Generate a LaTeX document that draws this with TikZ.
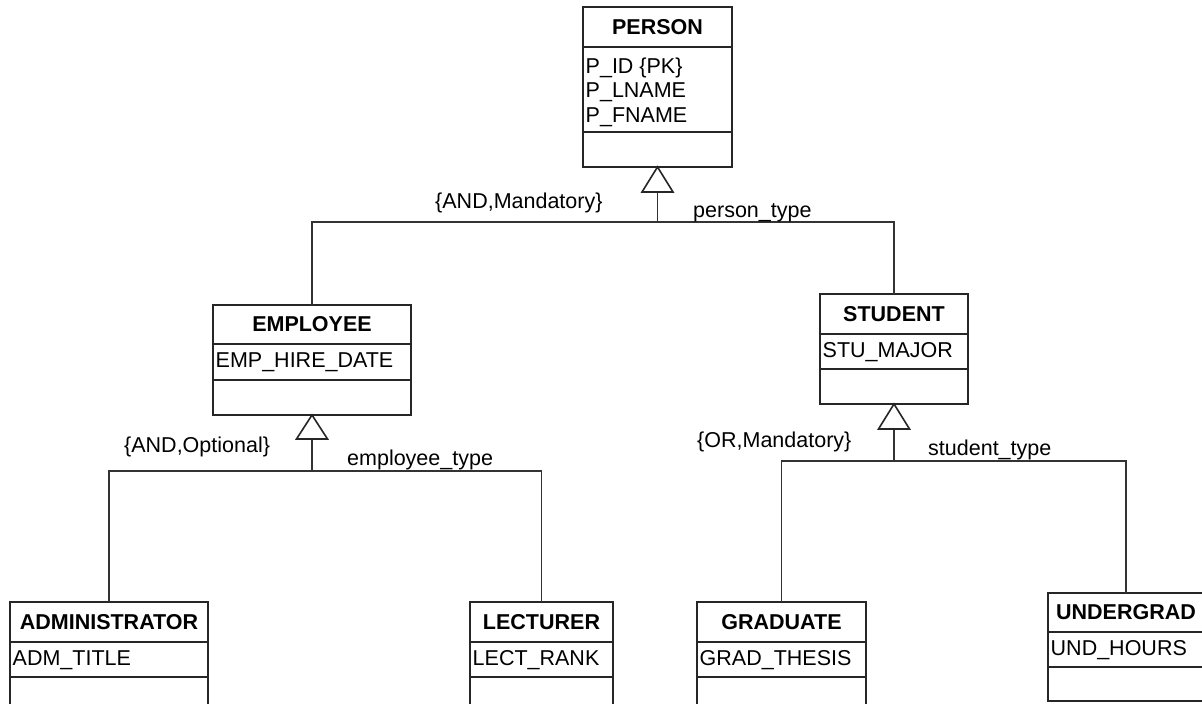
\documentclass[tikz,border=0pt]{standalone}
\usepackage{fontspec}
\setmainfont{Liberation Sans}
\usetikzlibrary{calc}
\newcommand\dfont{\fontsize{21.5}{24}\selectfont}
\newcommand\attrfirst{23}
% UML class box: name, north-west corner, width, heights of the three compartments, title, attributes
\newcommand\umlbox[8]{%
  \node[part, minimum width=#3, minimum height=#4] (#1H) at #2 {};
  \node[part, minimum width=#3, minimum height=#5] (#1A) at (#1H.south west) {};
  \node[part, minimum width=#3, minimum height=#6] (#1O) at (#1A.south west) {};
  \node[ctitle] (#1T) at (#1H.center) {#7};
  \foreach \t [count=\i] in {#8}
    \node[attr] at ($(#1A.north west)+(2.5,{\attrfirst+24.5*(\i-1)})$) {\t};
}
\begin{document}
\begin{tikzpicture}[x=1pt,y=-1pt,
  part/.style={draw=black!85, line width=1.8pt, anchor=north west, inner sep=0pt, outer sep=0pt},
  ctitle/.style={font=\dfont\bfseries, inner sep=0pt, anchor=center},
  attr/.style={font=\dfont, inner sep=0pt, anchor=base west},
  lbl/.style={font=\dfont, inner sep=0pt, anchor=base west},
  conn/.style={draw=black!80, line width=1.3pt},
  gen/.style={draw=black!85, line width=1.6pt, fill=white, line join=miter}]
\useasboundingbox (0,0) rectangle (1202,704);
\clip (0,0) rectangle (1202,704);
\fill[white] (0,0) rectangle (1202,704);

% classes
\renewcommand\attrfirst{26}
\umlbox{person}{(583,7)}{149}{40}{85}{35}{PERSON}{P\_ID \{PK\},P\_LNAME,P\_FNAME}
\renewcommand\attrfirst{23}
\umlbox{emp}{(213,305)}{198}{39}{36}{35}{EMPLOYEE}{EMP\_HIRE\_DATE}
\umlbox{stud}{(820,294)}{148}{40}{35}{35}{STUDENT}{STU\_MAJOR}
\umlbox{adm}{(10,602)}{198}{40}{35}{40}{ADMINISTRATOR}{ADM\_TITLE}
\umlbox{lect}{(470,602)}{143}{40}{35}{40}{LECTURER}{LECT\_RANK}
\umlbox{grad}{(697,602)}{169}{40}{35}{40}{GRADUATE}{GRAD\_THESIS}
\umlbox{und}{(1048,593)}{156}{39}{35}{34}{UNDERGRAD}{UND\_HOURS}

% PERSON generalization
\coordinate (personTb) at ($(personO.south)+(0,25)$);
\coordinate (personJ) at ($(personTb)+(0,30)$);
\draw[conn] (personTb) -- (personJ);
\draw[conn] (empH.north) |- (personJ);
\draw[conn] (studH.north) |- (personJ);
\draw[gen] (personO.south) -- ++(-15.5,25) -- ++(31,0) -- cycle;

% EMPLOYEE generalization
\coordinate (empTb) at ($(empO.south)+(0,24)$);
\coordinate (empJ) at ($(empTb)+(0,32)$);
\draw[conn] (empTb) -- (empJ);
\draw[conn] (admH.north) |- (empJ);
\draw[conn] (lectH.north) |- (empJ);
\draw[gen] (empO.south) -- ++(-15.5,24) -- ++(31,0) -- cycle;

% STUDENT generalization
\coordinate (studTb) at ($(studO.south)+(0,25)$);
\coordinate (studJ) at ($(studTb)+(0,32)$);
\draw[conn] (studTb) -- (studJ);
\draw[conn] (gradH.north) |- (studJ);
\draw[conn] (undH.north) |- (studJ);
\draw[gen] (studO.south) -- ++(-15.5,25) -- ++(31,0) -- cycle;

% constraint and discriminator labels
\node[lbl] (pcons) at (435,208) {\{AND,Mandatory\}};
\node[lbl] (pdisc) at (693,217) {person\_type};
\node[lbl] (econs) at (124,452) {\{AND,Optional\}};
\node[lbl] (edisc) at (347,465) {employee\_type};
\node[lbl] (scons) at (697,447) {\{OR,Mandatory\}};
\node[lbl] (sdisc) at (928,455) {student\_type};
\end{tikzpicture}
\end{document}
